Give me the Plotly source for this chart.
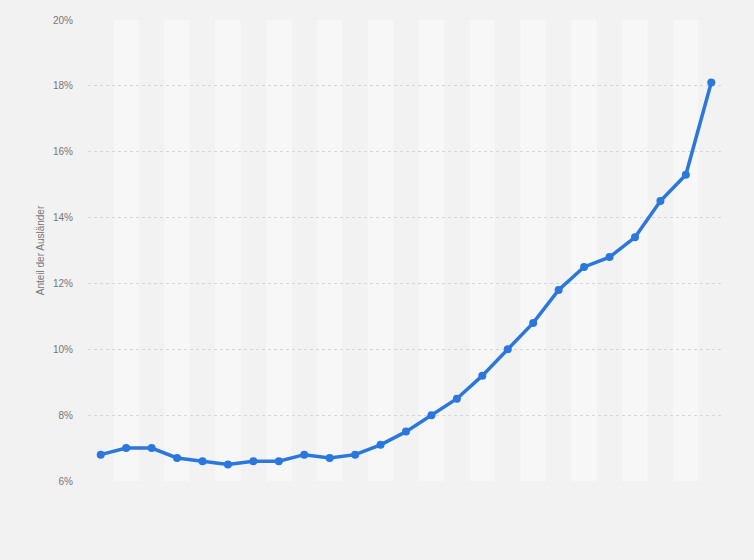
import plotly.graph_objects as go

years = [str(y) for y in range(1995, 2020)]
anteil = [6.8, 7.0, 7.0, 6.7, 6.6, 6.5, 6.6, 6.6, 6.8, 6.7, 6.8, 7.1, 7.5, 8.0, 8.5,
          9.2, 10.0, 10.8, 11.8, 12.5, 12.8, 13.4, 14.5, 15.3, 18.1]
y_ticks = [6, 8, 10, 12, 14, 16, 18, 20]
y_title = "Anteil der Ausländer"

fig = go.Figure()
fig.add_trace(go.Scatter(
    x=years, y=anteil, mode="lines+markers",
    line=dict(color="#2a77dd", width=3.5),
    marker=dict(color="#2a77dd", size=8),
    hoverinfo="x+y",
))

shapes = []
for i in range(len(years)):
    if i % 2 == 1:
        shapes.append(dict(type="rect", xref="x", yref="paper",
                           x0=i - 0.5, x1=i + 0.5, y0=0, y1=1,
                           fillcolor="#f7f7f7", line=dict(width=0), layer="below"))

fig.update_layout(
    width=754, height=560,
    margin=dict(l=88, r=30, t=20, b=79),
    paper_bgcolor="#f2f2f2", plot_bgcolor="#f2f2f2",
    showlegend=False,
    shapes=shapes,
    font=dict(family="Liberation Sans, Arial, sans-serif", color="#666666"),
    xaxis=dict(type="category", showticklabels=False, showgrid=False,
               zeroline=False, showline=False, ticks="",
               range=[-0.5, len(years) - 0.5]),
    yaxis=dict(range=[6, 20], tickvals=y_ticks,
               ticktext=[f"{v}%" for v in y_ticks],
               showgrid=True, gridcolor="#d6d6d6", griddash="dot", gridwidth=1,
               zeroline=False, showline=False, ticks="",
               tickfont=dict(size=10, color="#777777"),
               ticklabelstandoff=14,
               title=dict(text=y_title, font=dict(size=10, color="#777777"), standoff=6)),
)

fig.write_html(
    "out.html",
    config={"displayModeBar": False},
    post_script="document.body.style.margin='0';document.body.style.background='#f2f2f2';",
)
